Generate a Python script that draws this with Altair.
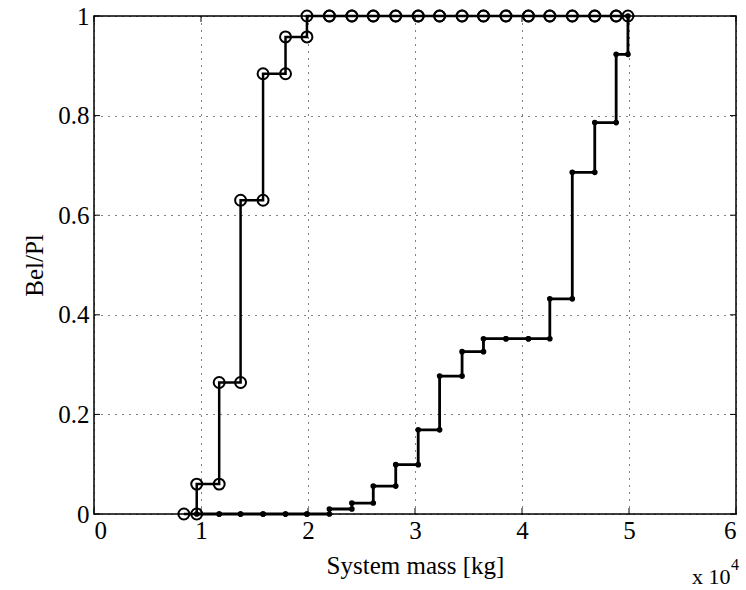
import altair as alt
import pandas as pd

# Plausibility staircase: breakpoints (kg) and level on each interval
pl_x = [8400, 9600, 11700, 13700, 15800, 17900, 19900, 22000, 24100, 26100,
        28200, 30300, 32300, 34400, 36400, 38500, 40600, 42600, 44700, 46800,
        48800, 49900]
pl_level = [0.0, 0.06, 0.264, 0.63, 0.884, 0.958,
            1.0, 1.0, 1.0, 1.0, 1.0, 1.0, 1.0, 1.0, 1.0, 1.0, 1.0, 1.0, 1.0, 1.0, 1.0]

# Belief staircase
bel_x = [9600, 11700, 13700, 15800, 17900, 19900, 22000, 24100, 26100, 28200,
         30300, 32300, 34400, 36400, 38500, 40600, 42600, 44700, 46800, 48800,
         49900]
bel_level = [0.0, 0.0, 0.0, 0.0, 0.0, 0.0, 0.01, 0.022, 0.056, 0.099,
             0.169, 0.277, 0.326, 0.352, 0.352, 0.352, 0.432, 0.686, 0.786, 0.923]
bel_end = 1.0

x_ticks = [0, 10000, 20000, 30000, 40000, 50000, 60000]
y_ticks = [0, 0.2, 0.4, 0.6, 0.8, 1.0]


def stairs(xs, levels, end=None):
    rows = []
    for k, lv in enumerate(levels):
        rows.append((xs[k], lv))
        rows.append((xs[k + 1], lv))
    if end is not None:
        rows.append((xs[-1], end))
    return pd.DataFrame({"x": [r[0] for r in rows], "y": [r[1] for r in rows],
                         "o": list(range(len(rows)))})


pl_df = stairs(pl_x, pl_level)
bel_df = stairs(bel_x, bel_level, bel_end)

W, H = 642, 498
FONT = "Liberation Serif, Times New Roman, serif"

xscale = alt.Scale(domain=[0, 60000], nice=False, zero=False)
yscale = alt.Scale(domain=[0, 1], nice=False)

xaxis = alt.Axis(values=x_ticks, labelExpr="datum.value / 10000", title="System mass [kg]",
                 grid=True, gridColor="black", gridDash=[1, 6], gridWidth=1,
                 domain=False, ticks=False, labelFontSize=25, labelFont=FONT,
                 labelColor="black", labelPadding=4, titleFont=FONT, titleFontSize=25,
                 titleFontWeight="normal", titleColor="black", titlePadding=10)
yaxis = alt.Axis(values=y_ticks, format="~g", title="Bel/Pl",
                 grid=True, gridColor="black", gridDash=[1, 6], gridWidth=1,
                 domain=False, ticks=False, labelFontSize=25, labelFont=FONT,
                 labelColor="black", labelPadding=5, titleFont=FONT, titleFontSize=25,
                 titleFontWeight="normal", titleColor="black", titlePadding=10)

base_x = alt.X("x:Q", scale=xscale, axis=xaxis)
base_y = alt.Y("y:Q", scale=yscale, axis=yaxis)

pl_line = alt.Chart(pl_df).mark_line(color="black", strokeWidth=2.5).encode(
    x=base_x, y=base_y, order="o:Q")
pl_pts = alt.Chart(pl_df).mark_point(shape="circle", filled=False, color="black",
                                     size=120, strokeWidth=2, opacity=1).encode(
    x=alt.X("x:Q", scale=xscale), y=alt.Y("y:Q", scale=yscale))
bel_line = alt.Chart(bel_df).mark_line(color="black", strokeWidth=2.8).encode(
    x=alt.X("x:Q", scale=xscale), y=alt.Y("y:Q", scale=yscale), order="o:Q")
bel_pts = alt.Chart(bel_df).mark_point(shape="circle", filled=True, color="black",
                                       size=32, opacity=1).encode(
    x=alt.X("x:Q", scale=xscale), y=alt.Y("y:Q", scale=yscale))

xt_df = pd.DataFrame({"x": x_ticks})
yt_df = pd.DataFrame({"y": y_ticks})
tick_len = 6
xt_bottom = alt.Chart(xt_df).mark_rule(color="black", strokeWidth=1).encode(
    x=alt.X("x:Q", scale=xscale), y=alt.value(H), y2=alt.value(H - tick_len))
xt_top = alt.Chart(xt_df).mark_rule(color="black", strokeWidth=1).encode(
    x=alt.X("x:Q", scale=xscale), y=alt.value(0), y2=alt.value(tick_len))
yt_left = alt.Chart(yt_df).mark_rule(color="black", strokeWidth=1).encode(
    y=alt.Y("y:Q", scale=yscale), x=alt.value(0), x2=alt.value(tick_len))
yt_right = alt.Chart(yt_df).mark_rule(color="black", strokeWidth=1).encode(
    y=alt.Y("y:Q", scale=yscale), x=alt.value(W), x2=alt.value(W - tick_len))

exp_df = pd.DataFrame({"t": ["x 10"], "s": ["4"]})
exp_main = alt.Chart(exp_df).mark_text(font=FONT, fontSize=22, color="black",
                                       align="left", baseline="alphabetic").encode(
    text="t:N", x=alt.value(598), y=alt.value(H + 70))
exp_sup = alt.Chart(exp_df).mark_text(font=FONT, fontSize=16, color="black",
                                      align="left", baseline="alphabetic").encode(
    text="s:N", x=alt.value(637), y=alt.value(H + 56))

chart = alt.layer(pl_line, xt_bottom, xt_top, yt_left, yt_right,
                  bel_line, bel_pts, pl_pts, exp_main, exp_sup).properties(
    width=W, height=H,
    autosize=alt.AutoSizeParams(type="none"),
    padding={"left": 94, "top": 16, "right": 10, "bottom": 76},
    background="white",
).configure_view(stroke="black", strokeWidth=1.5)

chart.save("out.html", embed_options={"renderer": "svg", "actions": False})
